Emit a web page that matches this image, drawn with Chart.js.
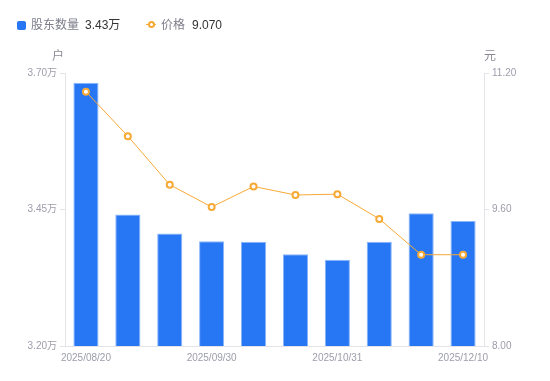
<!DOCTYPE html>
<html>
<head>
<meta charset="utf-8">
<script src="https://cdn.jsdelivr.net/npm/chart.js@4"></script>
<style>
  html, body { margin:0; padding:0; background:#fff; }
  #wrap { position:relative; width:550px; height:381px; }
  #legend { position:absolute; left:0; top:0; width:550px; height:40px;
    font-family: Arial, "Liberation Sans", "Noto Sans CJK SC", sans-serif; font-size:12px; }
  .item { position:absolute; top:17px; height:16px; line-height:16px; white-space:nowrap; }
  .lab { color:#7d7d8a; }
  .val { color:#333; }
  .sq { position:absolute; width:9px; height:9px; border-radius:2px; background:#2777F4; top:21px; left:17px; }
  .ln { position:absolute; left:146px; top:24px; width:10px; height:1px; background:#F7A936; }
  .pt { position:absolute; left:148px; top:21px; width:3px; height:3px; border:2px solid #F7A936; border-radius:50%; background:#fff; }
  canvas { position:absolute; left:0; top:0; }
</style>
</head>
<body>
<div id="wrap">
  <canvas id="c" width="550" height="381"></canvas>
  <div id="legend">
    <div class="sq"></div>
    <div class="item" style="left:31px;"><span class="lab">股东数量</span></div>
    <div class="item" style="left:85px;"><span class="val">3.43万</span></div>
    <div class="ln"></div>
    <div class="pt"></div>
    <div class="item" style="left:161px;"><span class="lab">价格</span></div>
    <div class="item" style="left:192px;"><span class="val">9.070</span></div>
  </div>
</div>
<script>
const categories = ["2025/08/20","2025/08/31","2025/09/19","2025/09/30","2025/10/10","2025/10/20","2025/10/31","2025/11/10","2025/11/20","2025/12/10"];
const shareholders = [3.682, 3.441, 3.406, 3.392, 3.391, 3.368, 3.358, 3.391, 3.443, 3.429]; // 万户
const prices = [10.98, 10.46, 9.89, 9.63, 9.87, 9.77, 9.78, 9.49, 9.07, 9.07];
const shownLabelIdx = [0, 3, 6, 9];
const leftTicks = [3.20, 3.45, 3.70];
const rightTicks = [8.00, 9.60, 11.20];

const FONT = 'Arial, "Liberation Sans", "Noto Sans CJK SC", sans-serif';
const TICK_COLOR = '#9d9dab';
const AXIS_COLOR = '#e3e3e8';

const axisTitles = {
  id: 'axisTitles',
  afterDraw(chart) {
    const ctx = chart.ctx, a = chart.chartArea;
    ctx.save();
    ctx.font = '12px ' + FONT;
    ctx.fillStyle = '#8a8a96';
    ctx.textAlign = 'center';
    ctx.textBaseline = 'middle';
    ctx.fillText('户', a.left - 7, a.top - 16);
    ctx.fillText('元', a.right + 6, a.top - 16);
    ctx.restore();
  }
};

new Chart(document.getElementById('c'), {
  data: {
    labels: categories,
    datasets: [
      {
        type: 'line', label: '价格', data: prices, yAxisID: 'y1', order: 0,
        borderColor: '#F7A936', borderWidth: 1, tension: 0,
        pointRadius: 3, pointBorderWidth: 2, pointBackgroundColor: '#fff', pointBorderColor: '#F7A936'
      },
      {
        type: 'bar', label: '股东数量', data: shareholders, yAxisID: 'y', order: 1,
        backgroundColor: '#2777F4', borderColor: '#8ab6fa',
        borderWidth: {top:1, left:1, right:1, bottom:0}, borderSkipped: false,
        barPercentage: 0.6, categoryPercentage: 1.0
      }
    ]
  },
  options: {
    responsive: false, animation: false, devicePixelRatio: 1,
    layout: { padding: { top: 73, left: 0, right: 0, bottom: 0 } },
    plugins: { legend: { display: false }, tooltip: { enabled: false } },
    scales: {
      x: {
        offset: true,
        grid: { display: false, drawTicks: false },
        border: { display: true, color: AXIS_COLOR },
        ticks: {
          autoSkip: false, maxRotation: 0, padding: 6, color: TICK_COLOR,
          font: { size: 10, family: FONT },
          callback: (v, i) => shownLabelIdx.includes(i) ? categories[i] : ''
        },
        afterFit: s => { s.height = 35; }
      },
      y: {
        position: 'left', min: 3.2, max: 3.7,
        grid: { drawOnChartArea: false, drawTicks: true, tickLength: 5, color: AXIS_COLOR },
        border: { color: AXIS_COLOR },
        afterBuildTicks: s => { s.ticks = leftTicks.map(v => ({ value: v })); },
        ticks: { padding: 3, color: TICK_COLOR, font: { size: 10, family: FONT },
          callback: v => Number(v).toFixed(2) + '万' },
        afterFit: s => { s.width = 65; }
      },
      y1: {
        position: 'right', min: 8, max: 11.2,
        grid: { drawOnChartArea: false, drawTicks: true, tickLength: 5, color: AXIS_COLOR },
        border: { color: AXIS_COLOR },
        afterBuildTicks: s => { s.ticks = rightTicks.map(v => ({ value: v })); },
        ticks: { padding: 3, color: TICK_COLOR, font: { size: 10, family: FONT },
          callback: v => Number(v).toFixed(2) },
        afterFit: s => { s.width = 66; }
      }
    }
  },
  plugins: [axisTitles]
});
</script>
</body>
</html>
